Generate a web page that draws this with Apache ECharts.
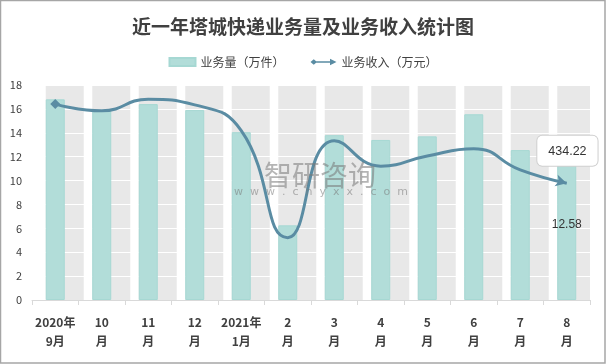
<!DOCTYPE html>
<html><head><meta charset="utf-8">
<script src="https://cdn.jsdelivr.net/npm/echarts@6/dist/echarts.min.js"></script>
<style>html,body{margin:0;padding:0;background:#fff}#c{width:606px;height:364px}</style>
</head><body><div id="c"></div>
<script>
const categories = ['2020年\n9月','10\n月','11\n月','12\n月','2021年\n1月','2\n月','3\n月','4\n月','5\n月','6\n月','7\n月','8\n月'];
const volume = [16.8, 15.85, 16.4, 15.9, 14.05, 6.25, 13.8, 13.4, 13.7, 15.55, 12.55, 12.58];
const income = [729, 704, 747, 726, 630, 232, 593, 498, 536, 563, 484, 434.22];
const yTicks = [0, 2, 4, 6, 8, 10, 12, 14, 16, 18];
const bandValue = categories.map(() => 18);

const font = "'Noto Sans CJK SC', 'Microsoft YaHei', sans-serif";
const last = volume.length - 1;

const chart = echarts.init(document.getElementById('c'), null, {renderer: 'canvas'});
chart.setOption({
  animation: false,
  backgroundColor: '#fff',
  textStyle: {fontFamily: font},
  title: {
    text: '近一年塔城快递业务量及业务收入统计图',
    left: 'center', top: 12,
    textStyle: {fontSize: 19, fontWeight: 'bold', color: '#404040', fontFamily: font}
  },
  legend: {
    top: 51, left: 'center', itemGap: 26, itemWidth: 26, itemHeight: 8,
    textStyle: {fontSize: 12, color: '#404040', fontFamily: font},
    data: [
      {name: '业务量（万件）', icon: 'rect'},
      {name: '业务收入（万元）', icon: 'path://M0,5 L4,1.5 L8,5 L4,8.5 Z M6,4 L26,4 L26,6 L6,6 Z M24,1 L32,5 L24,9 Z'}
    ]
  },
  grid: {left: 32, right: 16, top: 85, bottom: 64},
  xAxis: {
    type: 'category', data: categories, z: 1,
    axisLine: {lineStyle: {color: '#d9d9d9'}},
    axisTick: {show: true, length: 5, lineStyle: {color: '#d9d9d9'}},
    axisLabel: {fontSize: 12, fontWeight: 'bold', color: '#404040', lineHeight: 19, margin: 13, interval: 0, fontFamily: font}
  },
  yAxis: [{
    type: 'value', min: 0, max: 18, interval: 2, z: 1,
    axisLine: {show: false}, axisTick: {show: false},
    axisLabel: {fontSize: 11, color: '#404040', margin: 10,
      formatter: v => yTicks.indexOf(v) >= 0 ? String(v) : ''},
    splitLine: {show: true, lineStyle: {color: '#ffffff', width: 1}}
  }, {
    type: 'value', min: 0, max: 800, show: false, splitLine: {show: false}
  }],
  series: [{
    name: 'band', type: 'bar', data: bandValue, barWidth: 38, z: 0,
    itemStyle: {color: '#e8e8e8'}, silent: true, legendHoverLink: false
  }, {
    name: '业务量（万件）', type: 'bar', barWidth: 19, barGap: '-100%', z: 2,
    itemStyle: {color: '#b2ddd9', borderColor: '#a6d8d3', borderWidth: 1},
    data: volume.map((v, i) => i === last ? {
      value: v,
      label: {show: true, position: 'inside', color: '#333', fontSize: 12, fontFamily: 'Liberation Sans, sans-serif'}
    } : v)
  }, {
    name: '业务收入（万元）', type: 'line', yAxisIndex: 1, smooth: 0.5, z: 3,
    symbol: 'none', showSymbol: true,
    lineStyle: {color: '#5a8ca3', width: 3},
    itemStyle: {color: '#5a8ca3'},
    data: income.map((v, i) => {
      if (i === 0) return {value: v, symbol: 'diamond', symbolSize: 10};
      if (i === last) return {
        value: v, symbol: 'arrow', symbolSize: [9, 11], symbolRotate: -105,
        label: {show: true, position: 'top', distance: 9, offset: [6, 0],
          color: '#333', fontSize: 12.5, fontFamily: 'Liberation Sans, sans-serif',
          backgroundColor: '#fff', borderColor: '#cfcfcf', borderWidth: 1, borderRadius: 5,
          padding: [9, 11, 8, 11]}
      };
      return v;
    })
  }],
  graphic: [
    {type: 'text', left: 264, top: 161, z: 10, silent: true,
      style: {text: '智研咨询', font: '28px ' + font, fill: 'rgba(120,120,120,0.55)'}},
    {type: 'text', left: 234, top: 187, z: 10, silent: true,
      style: {text: 'w  w  w  .  c  h  y  x  x  .  c  o  m', font: '11px DejaVu Sans, sans-serif', fill: 'rgba(120,120,120,0.55)'}},
    {type: 'rect', z: 10, silent: true, shape: {x: 0.5, y: 0.5, width: 604.5, height: 362.5},
      style: {fill: 'none', stroke: '#a6a6a6', lineWidth: 1.5}}
  ]
});
</script></body></html>
